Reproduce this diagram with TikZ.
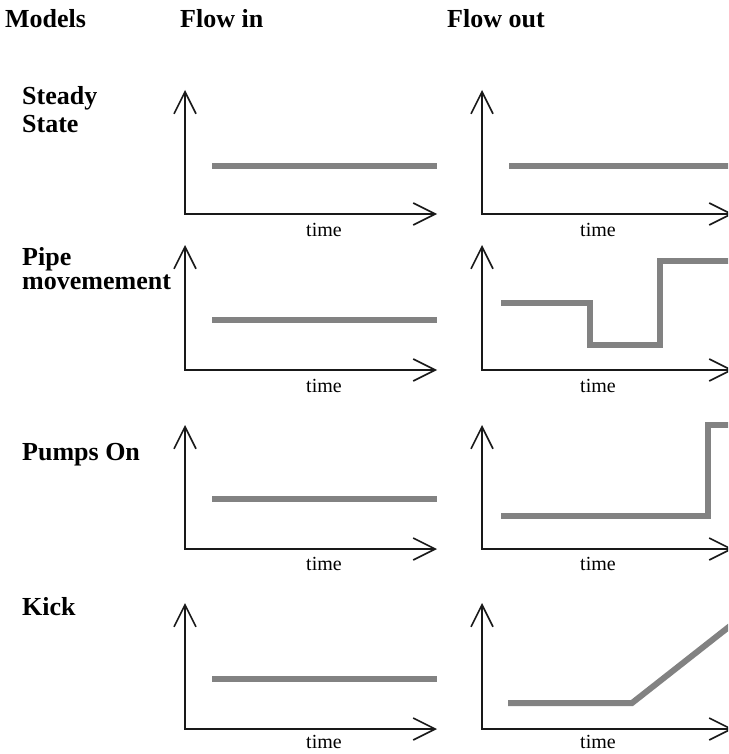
\documentclass[tikz,border=0pt]{standalone}
\usepackage{fontspec}
\setmainfont{Liberation Serif}
\usetikzlibrary{arrows.meta}
\definecolor{sig}{RGB}{130,130,130}
\definecolor{ax}{RGB}{25,25,25}
\tikzset{
  axes/.style={draw=ax, line width=1.6pt, line join=miter,
    {Straight Barb[length=22pt,width=22pt,line width=1.6pt]}-{Straight Barb[length=22pt,width=22pt,line width=1.6pt]}},
  sigline/.style={draw=sig, line width=6pt, line join=miter, line cap=butt},
  head/.style={font=\fontsize{26}{28}\selectfont\bfseries, anchor=base west, inner sep=0pt, align=left},
  tlabel/.style={font=\fontsize{20}{22}\selectfont, anchor=base, inner sep=0pt}
}
\begin{document}
\begin{tikzpicture}[x=1pt,y=-1pt]
\useasboundingbox (0,0) rectangle (728,754);
\clip (0,0) rectangle (728,754);
% headers
\node[head] (hm) at (5,28) {Models};
\node[head] (hi) at (180,28) {Flow in};
\node[head] (ho) at (447,28) {Flow out};
% row labels (base anchor = last line)
\node[head] (l1) at (22,133) {Steady\\State};
\node[head] (l2) at (22,289) {Pipe\\[-4pt]movemement};
\node[head] (l3) at (22,460) {Pumps On};
\node[head] (l4) at (22,615) {Kick};
% axes
\foreach \r/\t/\o/\d in {1/90/214/22, 2/245/370/22, 3/425/549/21, 4/603/729/19}{
  \coordinate (lt\r) at (185,\t);
  \coordinate (lo\r) at (185,\o);
  \coordinate (lr\r) at (437,\o);
  \coordinate (rt\r) at (482,\t);
  \coordinate (ro\r) at (482,\o);
  \coordinate (rr\r) at (733,\o);
  \draw[axes] (lt\r) -- (lo\r) -- (lr\r);
  \draw[axes] (rt\r) -- (ro\r) -- (rr\r);
  \node[tlabel] (tl\r) at (324,\o+\d) {time};
  \node[tlabel] (tr\r) at (598,\o+\d) {time};
}
% flow in signals
\foreach \r/\y in {1/166, 2/320, 3/499, 4/679}{
  \coordinate (fa\r) at (212,\y);
  \coordinate (fb\r) at (437,\y);
  \draw[sigline] (fa\r) -- (fb\r);
}
% flow out signals
\coordinate (s1a) at (509,166);
\coordinate (s1b) at (740,166);
\draw[sigline] (s1a) -- (s1b);
\coordinate (s2a) at (501,303);
\coordinate (s2b) at (590,303);
\coordinate (s2c) at (590,345);
\coordinate (s2d) at (660,345);
\coordinate (s2e) at (660,261);
\coordinate (s2f) at (740,261);
\draw[sigline] (s2a) -- (s2b) -- (s2c) -- (s2d) -- (s2e) -- (s2f);
\coordinate (s3a) at (501,516);
\coordinate (s3b) at (708,516);
\coordinate (s3c) at (708,425);
\coordinate (s3d) at (740,425);
\draw[sigline] (s3a) -- (s3b) -- (s3c) -- (s3d);
\coordinate (s4a) at (508,703);
\coordinate (s4b) at (632,703);
\coordinate (s4c) at (744,615);
\draw[sigline] (s4a) -- (s4b) -- (s4c);
\end{tikzpicture}
\end{document}
